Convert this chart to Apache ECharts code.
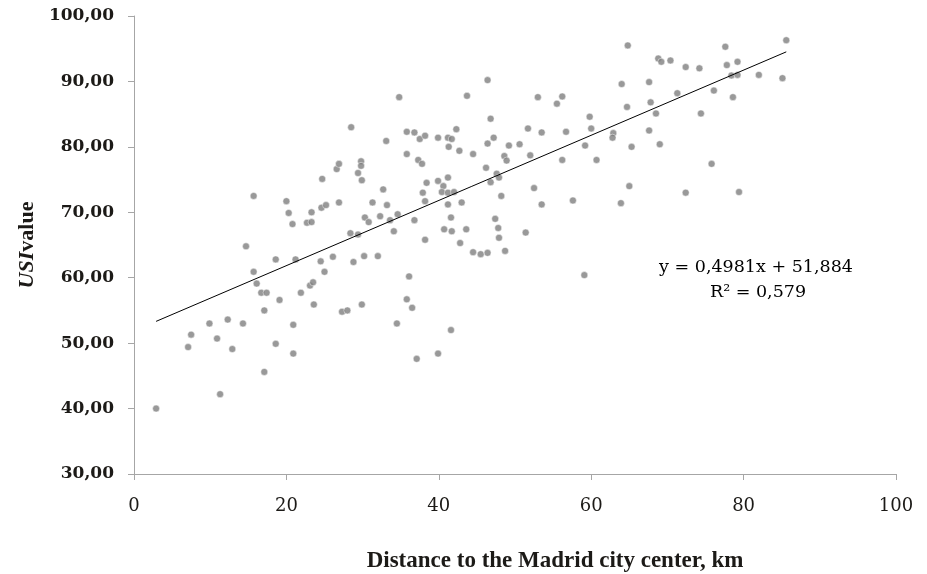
<!DOCTYPE html>
<html>
<head>
<meta charset="utf-8">
<script src="https://cdn.jsdelivr.net/npm/echarts@6/dist/echarts.min.js"></script>
<style>
html,body{margin:0;padding:0;background:#fff;}
#chart{width:927px;height:574px;}
</style>
</head>
<body>
<div id="chart"></div>
<script>
// Distance to the Madrid city center (km)
const distanceKm = [
28.5,33.1,34.8,15.7,20.0,20.3,20.8,23.3,22.7,23.3,24.7,26.6,26.9,24.6,25.2,26.9,29.8,29.8,29.4,29.9,
32.7,31.3,33.2,30.3,30.8,32.3,33.6,34.6,28.4,29.4,34.1,14.7,
64.8,46.4,43.7,53.0,56.2,55.5,64.0,67.6,64.7,67.8,46.8,59.8,35.8,36.8,37.5,38.2,39.9,41.2,
41.7,42.3,41.3,42.7,44.5,46.4,47.2,49.2,50.6,51.7,53.5,56.7,60.0,67.6,35.8,37.3,37.8,48.6,48.9,52.0,
59.2,56.2,60.7,62.9,62.8,65.3,38.4,39.9,41.2,40.6,37.9,40.4,41.2,42.0,38.2,41.2,43.0,46.2,47.6,47.9,
46.8,48.2,52.5,53.5,57.6,63.9,65.0,36.8,41.6,40.7,41.7,43.6,38.2,42.8,47.4,47.8,47.9,51.4,44.5,45.5,
46.4,48.7,
77.6,85.6,68.8,69.2,70.4,72.4,74.2,77.8,79.2,78.4,79.2,82.0,85.1,71.3,76.1,78.6,68.5,74.4,69.0,75.8,
72.4,79.4,
18.6,21.2,24.5,26.1,28.8,30.2,32.0,15.7,16.1,16.7,17.4,19.1,21.9,25.0,23.1,23.5,23.6,17.1,20.9,27.3,
28.0,29.9,34.5,9.9,12.3,14.3,7.5,7.1,10.9,12.9,18.6,20.9,17.1,11.3,2.9,
36.1,59.1,35.8,36.5,41.6,37.1,39.9
];
// USI value
const usiValue = [
83.0,80.9,87.6,72.5,71.7,69.9,68.2,70.0,68.4,68.5,75.1,76.6,77.4,70.7,71.1,71.5,77.8,77.1,76.0,74.9,
73.5,71.5,71.1,69.2,68.5,69.4,68.8,69.7,66.8,66.6,67.1,64.8,
95.5,90.2,87.8,87.6,87.7,86.6,89.6,89.9,86.1,86.8,84.3,84.6,82.3,82.2,81.2,81.7,81.4,81.4,
81.2,82.7,80.0,79.4,78.9,80.5,81.4,80.2,80.4,82.8,82.2,82.3,82.8,82.5,78.9,78.0,77.4,78.6,77.9,78.7,
80.2,78.0,78.0,82.1,81.4,80.0,74.5,74.8,75.3,74.0,73.0,73.1,73.0,73.1,71.7,71.2,71.5,76.8,75.9,75.3,
74.6,72.5,73.7,71.2,71.8,71.4,74.0,68.8,69.2,67.4,67.1,67.4,65.8,65.3,69.0,67.6,66.1,66.9,63.9,63.6,
63.8,64.1,
95.3,96.3,93.5,93.0,93.2,92.2,92.0,92.5,93.0,90.9,91.0,91.0,90.5,88.2,88.6,87.6,85.1,85.1,80.4,77.4,
73.0,73.1,
62.8,62.8,62.5,63.2,62.4,63.3,63.3,60.9,59.1,57.7,57.7,56.6,57.7,60.9,58.8,59.3,55.9,55.0,52.8,54.8,
55.0,55.9,53.0,53.0,53.6,53.0,51.3,49.4,50.7,49.1,49.9,48.4,45.6,42.2,40.0,
60.2,60.4,56.7,55.4,52.0,47.6,48.4
];
// Linear trend line (from the equation shown in the chart)
const trendSlope = 0.4981;
const trendIntercept = 51.884;
const trendXRange = [2.9, 85.6];
const xTicks = [0, 20, 40, 60, 80, 100];
const yTicks = [30, 40, 50, 60, 70, 80, 90, 100];
const equationText = 'y = 0,4981x + 51,884';
const r2Text = 'R\u00B2 = 0,579';

const points = distanceKm.map((x, i) => [x, usiValue[i]]);
const trendData = trendXRange.map(x => [x, trendSlope * x + trendIntercept]);

const chart = echarts.init(document.getElementById('chart'), null, {renderer: 'canvas'});
const axisColor = '#a6a6a6';
const textColor = '#1c1a17';
chart.setOption({
  animation: false,
  backgroundColor: '#ffffff',
  grid: {left: 134, right: 31, top: 16, bottom: 100, containLabel: false, outerBoundsMode: 'none'},
  xAxis: {
    type: 'value', min: xTicks[0], max: xTicks[xTicks.length - 1], interval: 20,
    splitLine: {show: false},
    axisLine: {show: true, onZero: false, lineStyle: {color: axisColor, width: 1}},
    axisTick: {show: true, length: 6, lineStyle: {color: axisColor}},
    axisLabel: {margin: 23, color: textColor, fontFamily: 'DejaVu Serif', fontSize: 18},
    name: 'Distance to the Madrid city center, km',
    nameLocation: 'middle', nameGap: 76,
    nameTextStyle: {fontFamily: 'Liberation Serif', fontWeight: 'bold', fontSize: 23, color: textColor,
      padding: [0, 0, 0, 80]}
  },
  yAxis: {
    type: 'value', min: yTicks[0], max: yTicks[yTicks.length - 1], interval: 10,
    splitLine: {show: false},
    axisLine: {show: true, onZero: false, lineStyle: {color: axisColor, width: 1}},
    axisTick: {show: true, length: 6, lineStyle: {color: axisColor}},
    axisLabel: {
      margin: 20, color: textColor, fontFamily: 'DejaVu Serif', fontWeight: 'bold', fontSize: 17,
      formatter: v => v.toFixed(2).replace('.', ',')
    },
    name: '{i|USI}{b|value}',
    nameLocation: 'middle', nameGap: 96, nameRotate: 90,
    nameTextStyle: {
      rich: {
        i: {fontFamily: 'Liberation Serif', fontWeight: 'bold', fontStyle: 'italic', fontSize: 22, color: textColor},
        b: {fontFamily: 'Liberation Serif', fontWeight: 'bold', fontSize: 22, color: textColor}
      }
    }
  },
  series: [
    {
      type: 'scatter', data: points, symbol: 'circle', symbolSize: 7,
      itemStyle: {color: '#808080', borderColor: '#ffffff', borderWidth: 0.6}
    },
    {
      type: 'line', data: trendData, symbol: 'none', silent: true,
      lineStyle: {color: '#000000', width: 1}
    }
  ],
  graphic: [
    {type: 'text', x: 756, y: 267, style: {text: equationText, font: '17.5px "DejaVu Serif"', fill: '#000',
      align: 'center', verticalAlign: 'middle'}},
    {type: 'text', x: 758, y: 292, style: {text: r2Text, font: '17.5px "DejaVu Serif"', fill: '#000',
      align: 'center', verticalAlign: 'middle'}}
  ]
});
</script>
</body>
</html>
